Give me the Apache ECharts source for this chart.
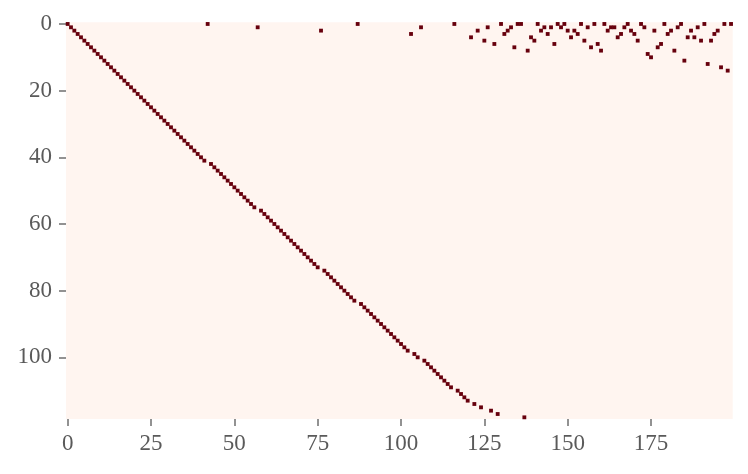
<!DOCTYPE html>
<html>
<head>
<meta charset="utf-8">
<script src="https://cdn.jsdelivr.net/npm/echarts@6/dist/echarts.min.js"></script>
<style>html,body{margin:0;padding:0;background:#fff;}#c{width:748px;height:474px;}</style>
</head>
<body>
<div id="c"></div>
<script>
// Matrix shape
var nRows = 119;
var nCols = 200;
// Row index of the single nonzero entry in each column (columns 0..199)
var colRows = [
  0,1,2,3,4,5,6,7,8,9,
  10,11,12,13,14,15,16,17,18,19,
  20,21,22,23,24,25,26,27,28,29,
  30,31,32,33,34,35,36,37,38,39,
  40,41,0,42,43,44,45,46,47,48,
  49,50,51,52,53,54,55,1,56,57,
  58,59,60,61,62,63,64,65,66,67,
  68,69,70,71,72,73,2,74,75,76,
  77,78,79,80,81,82,83,0,84,85,
  86,87,88,89,90,91,92,93,94,95,
  96,97,98,3,99,100,1,101,102,103,
  104,105,106,107,108,109,0,110,111,112,
  113,4,114,2,115,5,1,116,6,117,
  0,3,2,1,7,0,0,118,8,4,
  5,0,2,1,3,1,6,0,1,0,
  2,4,2,3,0,5,1,7,0,6,
  8,0,2,1,1,4,3,1,0,2,
  3,5,0,1,9,10,2,7,6,0,
  3,2,8,1,0,11,4,2,4,1,
  5,0,12,5,3,2,13,0,14,0
];
var xTickStep = 25;
var yTickStep = 20;

var xCats = [], yCats = [];
for (var i = 0; i < nCols; i++) xCats.push(String(i));
for (var j = 0; j < nRows; j++) yCats.push(String(j));
var cells = [];
for (var c = 0; c < colRows.length; c++) cells.push([c, colRows[c], 1]);

var chart = echarts.init(document.getElementById('c'), null, {renderer: 'canvas'});
var labelFont = {color: '#5a5a5a', fontFamily: 'Liberation Serif', fontSize: 23};
chart.setOption({
  animation: false,
  grid: {left: 66, top: 22.3, width: 666.7, height: 396.7, show: true, backgroundColor: '#fff5f0', borderWidth: 0},
  xAxis: {
    type: 'category', data: xCats, position: 'bottom',
    axisLine: {show: false},
    axisTick: {show: true, alignWithLabel: true, interval: xTickStep - 1, length: 7, lineStyle: {color: '#777777', width: 1.6}},
    axisLabel: Object.assign({interval: xTickStep - 1, margin: 13}, labelFont),
    splitLine: {show: false}
  },
  yAxis: {
    type: 'category', data: yCats, inverse: true,
    axisLine: {show: false},
    axisTick: {show: true, alignWithLabel: true, interval: yTickStep - 1, length: 7, lineStyle: {color: '#777777', width: 1.6}},
    axisLabel: Object.assign({interval: yTickStep - 1, margin: 14}, labelFont),
    splitLine: {show: false}
  },
  series: [{
    type: 'heatmap',
    data: cells,
    itemStyle: {color: '#67000d'},
    emphasis: {disabled: true}
  }]
});
</script>
</body>
</html>
